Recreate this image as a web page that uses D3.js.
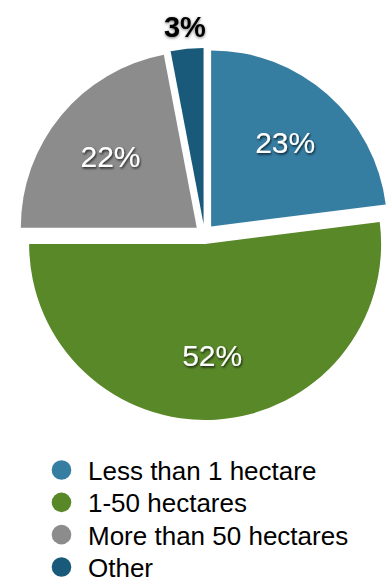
<!DOCTYPE html>
<html>
<head>
<meta charset="utf-8">
<script src="https://cdn.jsdelivr.net/npm/d3@7"></script>
<style>
  html, body { margin: 0; padding: 0; background: #fff; }
  svg { display: block; font-family: "Liberation Sans", Arial, Helvetica, sans-serif; }
</style>
</head>
<body>
<svg id="chart" width="388" height="578"></svg>
<script>
// Farm size shares
const categories = ["Less than 1 hectare", "1-50 hectares", "More than 50 hectares", "Other"];
const values = [23, 52, 22, 3];
const valueLabels = ["23%", "52%", "22%", "3%"];
const colors = ["#367da2", "#598829", "#8c8c8c", "#195a7b"];

const svg = d3.select("#chart");
const cx = 204.5, cy = 234;
const radius = 176;
const explode = 10;

// Soft shadows for the percentage labels
const defs = svg.append("defs");
defs.append("filter").attr("id", "shadowDark")
  .attr("x", "-30%").attr("y", "-30%").attr("width", "160%").attr("height", "160%")
  .append("feDropShadow")
  .attr("dx", 1).attr("dy", 1.5).attr("stdDeviation", 1.2)
  .attr("flood-color", "#000").attr("flood-opacity", 0.75);
defs.append("filter").attr("id", "shadowGlow")
  .attr("x", "-30%").attr("y", "-30%").attr("width", "160%").attr("height", "160%")
  .append("feDropShadow")
  .attr("dx", 0).attr("dy", 1).attr("stdDeviation", 1.6)
  .attr("flood-color", "#000").attr("flood-opacity", 0.55);

const pie = d3.pie().sort(null).value(d => d);
const arcs = pie(values);
const arc = d3.arc().innerRadius(0).outerRadius(radius);

const g = svg.append("g").attr("transform", `translate(${cx},${cy})`);

function offset(d, dist) {
  const a = (d.startAngle + d.endAngle) / 2;
  return [Math.sin(a) * dist, -Math.cos(a) * dist];
}

g.selectAll("path.slice")
  .data(arcs)
  .join("path")
  .attr("class", "slice")
  .attr("d", arc)
  .attr("fill", (d, i) => colors[i])
  .attr("transform", d => `translate(${offset(d, explode)})`);

// Percentage labels: inside for large slices, outside for the small one
g.selectAll("text.pct")
  .data(arcs)
  .join("text")
  .attr("class", "pct")
  .attr("text-anchor", "middle")
  .attr("dominant-baseline", "central")
  .attr("font-size", (d, i) => i === 3 ? 29 : 30)
  .attr("font-weight", (d, i) => i === 3 ? "bold" : "normal")
  .attr("fill", (d, i) => i === 3 ? "#000" : "#fff")
  .attr("filter", (d, i) => i === 3 ? "url(#shadowGlow)" : "url(#shadowDark)")
  .attr("transform", (d, i) => `translate(${offset(d, i === 3 ? 208 : 122)})`)
  .text((d, i) => valueLabels[i]);

// Legend
const legendY = d3.scalePoint().domain(categories).range([470, 567]);
const legend = svg.append("g");
const items = legend.selectAll("g.item")
  .data(categories)
  .join("g")
  .attr("class", "item")
  .attr("transform", d => `translate(0,${legendY(d)})`);
items.append("circle")
  .attr("cx", 61.5).attr("cy", 0).attr("r", 9.8)
  .attr("fill", (d, i) => colors[i]);
items.append("text")
  .attr("x", 88).attr("y", 10)
  .attr("font-size", 26)
  .attr("fill", "#000")
  .text(d => d);
</script>
</body>
</html>
